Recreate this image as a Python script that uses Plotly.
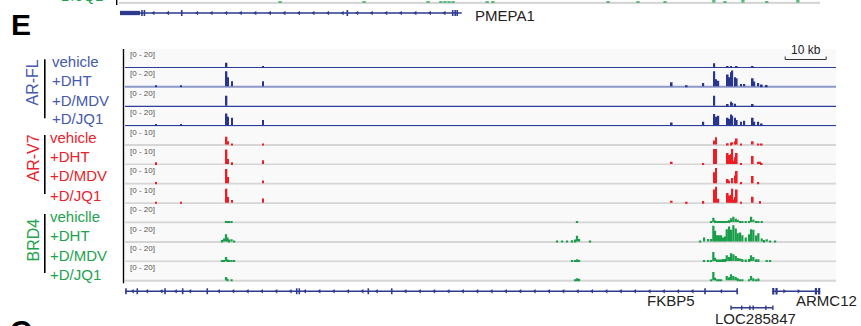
import plotly.graph_objects as go

# ======================= DATA =======================
GROUPS = ["AR-FL", "AR-V7", "BRD4"]
TREATMENTS = ["vehicle", "+DHT", "+D/MDV", "+D/JQ1"]
BRD4_TREATMENTS = ["vehiclle", "+DHT", "+D/MDV", "+D/JQ1"]
RANGE_LABELS = ["[0 - 20]", "[0 - 10]", "[0 - 20]"]
DATA_MAX = [20, 10, 20]
WINDOW_KB = 173.4          # visible locus width (kb)
SCALE_BAR_KB = [161.0, 171.0]

# AR (AR-FL and AR-V7) ChIP peak positions, kb from window start
AR_POS = [7.56, 13.66, 24.76, 25.12, 26.10, 33.66, 133.34, 137.0, 141.05,
          143.73, 144.10, 144.71, 147.0, 147.32, 147.80, 148.12, 148.49,
          148.78, 149.2, 150.24, 151.05, 153.1, 153.49, 154.46, 154.88,
          155.29, 156.5]
ARFL_VEHICLE = [0, 0, 4.7, 0, 0, 0.6, 0, 0, 0, 4.3, 0, 0, 0.9, 0, 1.2, 0, 0,
                0, 0.8, 0, 0, 1.2, 0, 0, 0, 0, 0]
ARFL_DHT = [1.2, 1.2, 17.4, 10.5, 5.8, 5.8, 4.7, 1.2, 3.8, 17.4, 8.1, 6.6,
            13.6, 10.5, 16.3, 18.3, 0, 10.5, 9.3, 2.7, 2.7, 9.3, 5.5, 3.8, 0,
            2.0, 1.5]
ARFL_MDV = [0, 0, 11.6, 0, 0, 0, 0, 0, 0, 11.6, 0, 0, 2.0, 0, 4.7, 3.1, 0,
            2.3, 0, 0, 0, 2.0, 0, 0, 0, 0, 0]
ARFL_JQ1 = [1.2, 1.2, 13.6, 9.7, 8.5, 5.8, 3.1, 0, 3.8, 12.8, 9.7, 10.8, 8.5,
            7.0, 12.4, 10.8, 0, 8.5, 5.8, 3.8, 5.0, 8.5, 3.8, 3.8, 0, 2.0, 0]
ARV7_VEHICLE = [0, 0, 4.5, 1.9, 0.4, 0.3, 0, 0, 0, 2.3, 4.2, 0, 0.8, 0, 1.0,
                1.3, 0, 1.9, 3.5, 0.4, 0, 1.9, 0, 0.4, 0, 0.4, 0]
ARV7_DHT = [1.0, 0, 8.3, 2.9, 1.0, 2.1, 1.2, 0, 0.6, 8.7, 8.7, 0, 6.4, 5.2,
            5.8, 8.7, 1.9, 3.9, 6.4, 0.6, 0, 4.6, 0, 1.2, 1.3, 0.6, 0]
ARV7_MDV = [0.8, 0, 8.3, 3.7, 0, 1.6, 0, 0, 0, 6.4, 8.9, 0, 2.5, 1.6, 0, 3.1,
            0, 4.5, 7.1, 0.8, 0, 4.2, 0, 0.8, 0, 0, 0]
ARV7_JQ1 = [0.6, 0.6, 8.1, 3.3, 1.6, 2.5, 1.2, 0.6, 1.0, 7.6, 9.3, 2.3, 5.6,
            4.2, 4.6, 8.1, 1.9, 3.3, 7.6, 0.6, 0, 3.5, 0, 0, 1.0, 0, 0]

# BRD4 ChIP signal bins, kb from window start
BRD4_POS = [23.66, 24.15, 24.63, 25.0, 25.37, 25.98, 26.59,
            105.37, 106.59, 107.8, 109.02, 109.76, 110.24, 110.73, 113.41,
            140.24, 141.22, 142.2, 142.93, 143.49, 143.9, 144.39, 144.88,
            145.37, 145.85, 146.34, 146.76, 147.32, 147.8, 148.37, 148.95,
            149.44, 150.0, 150.56, 151.39, 152.2, 152.68, 153.24, 153.9,
            154.46, 155.29, 155.85, 156.51, 157.32, 158.54]
BRD4_VEHICLE = [0, 0, 1.2, 0.6, 0.8, 1.2, 0,
                0, 0, 0, 0, 0, 1.2, 0, 0,
                0, 0, 0, 0.6, 5.0, 2.0, 1.2, 1.2, 1.2, 1.2, 0.6, 1.2, 2.3,
                4.6, 6.1, 3.8, 2.7, 1.2, 1.2, 0.6, 0.6, 6.1, 2.7, 1.2, 1.2,
                0.6, 0, 0, 0, 0]
BRD4_DHT = [1.7, 3.5, 8.5, 4.6, 2.3, 2.7, 0.6,
            0.6, 0.8, 0.8, 1.5, 2.3, 6.6, 2.9, 1.2,
            1.2, 4.6, 2.9, 2.9, 18.2, 12.4, 7.3, 7.3, 7.3, 4.6, 5.8, 14.3,
            17.4, 13.6, 18.9, 15.1, 9.6, 10.4, 7.3, 4.6, 8.5, 14.3, 13.6,
            7.0, 9.6, 3.5, 1.7, 2.7, 0.8, 0.8]
BRD4_MDV = [0.8, 1.2, 4.6, 1.7, 1.2, 1.2, 0.8,
            0, 0, 0, 1.2, 1.2, 2.0, 1.2, 0,
            0, 0.8, 1.2, 1.2, 10.4, 3.8, 1.7, 1.7, 1.7, 2.3, 2.3, 6.6, 4.6,
            8.9, 7.8, 5.8, 3.5, 2.7, 2.3, 1.7, 2.3, 6.6, 4.6, 2.0, 2.0, 0, 0,
            1.2, 1.2, 0]
BRD4_JQ1 = [0, 0, 3.8, 1.7, 0, 1.2, 0,
            0, 0, 0, 0, 1.2, 2.3, 1.7, 0,
            0, 0, 0, 0.8, 9.6, 3.1, 1.2, 1.2, 1.2, 0, 0, 5.0, 3.5, 7.0, 5.0,
            3.8, 2.3, 1.2, 1.2, 0, 1.2, 5.0, 2.3, 1.2, 2.0, 0, 0, 0, 0, 0]

# Gene models (kb from window start)
FKBP5_SPAN = [0.0, 149.5]
FKBP5_EXONS = [0.24, 3.0, 9.76, 14.07, 20.07, 41.88, 42.51, 59.34, 65.05,
               141.46, 149.3]
ARMC12_SPAN = [158.1, 169.5]
ARMC12_EXONS = [158.1, 158.9, 168.5, 169.3]
LOC285847_SPAN = [147.8, 158.0]
LOC285847_EXONS = [147.8, 150.4, 152.4, 153.2, 156.3, 158.0]

# Previous panel remnants (its own locus, kb)
PREV_WINDOW_KB = 171.0
PMEPA1_SPAN = [0.24, 83.6]
PMEPA1_UTR = [0.24, 5.1]
PMEPA1_EXONS = [5.6, 6.2, 15.3, 55.7, 81.4, 82.0, 82.5]
PREV_POS = [39.3, 59.8, 75.4, 78.5, 79.5, 80.5, 81.5, 89.8, 91.2, 119.3,
            126.6, 133.2, 145.1, 147.8, 152.2, 158.0, 165.6]
PREV_VAL = [1.2, 1.2, 1.0, 1.0, 1.5, 1.0, 1.0, 1.0, 1.2, 1.0, 1.0, 1.0, 3.0,
            1.2, 3.0, 1.0, 3.0]

# ======================= STYLE / LAYOUT =======================
W, H = 861, 326
FONT = "Liberation Sans, Arial, sans-serif"
BLUE_TXT, BLUE_BAR = "#4559ad", "#27358e"
RED_TXT, RED_BAR = "#e8232b", "#ee1c25"
GRN_TXT, GRN_BAR = "#22a24d", "#1b9e4b"
GENE = "#2d3a8e"
TRACK_L, TRACK_R = 125, 836
TOP, ROW_H = 48.9, 19.4


def px(v):
    return v / W


def py(v):
    return 1 - v / H


fig = go.Figure()
shapes, ann = [], []
layout = dict(width=W, height=H, margin=dict(l=0, r=0, t=0, b=0),
              paper_bgcolor="white", plot_bgcolor="rgba(0,0,0,0)",
              showlegend=False, barmode="overlay")


def hidden(**kw):
    d = dict(visible=True, showticklabels=False, showgrid=False,
             zeroline=False, showline=False, ticks="", fixedrange=True)
    d.update(kw)
    return d


layout["xaxis"] = hidden(domain=[px(TRACK_L), px(TRACK_R)],
                         range=[0, WINDOW_KB], anchor="y13")
layout["xaxis2"] = hidden(domain=[px(119), px(820)],
                          range=[0, PREV_WINDOW_KB], anchor="y15")

tracks = [
    (0, ARFL_VEHICLE, AR_POS), (0, ARFL_DHT, AR_POS),
    (0, ARFL_MDV, AR_POS), (0, ARFL_JQ1, AR_POS),
    (1, ARV7_VEHICLE, AR_POS), (1, ARV7_DHT, AR_POS),
    (1, ARV7_MDV, AR_POS), (1, ARV7_JQ1, AR_POS),
    (2, BRD4_VEHICLE, BRD4_POS), (2, BRD4_DHT, BRD4_POS),
    (2, BRD4_MDV, BRD4_POS), (2, BRD4_JQ1, BRD4_POS),
]
bar_cols = [BLUE_BAR, RED_BAR, GRN_BAR]
txt_cols = [BLUE_TXT, RED_TXT, GRN_TXT]

for i, (g, vals, pos) in enumerate(tracks):
    top = TOP + i * ROW_H
    bot = top + ROW_H
    S = DATA_MAX[g]
    key = "yaxis" if i == 0 else f"yaxis{i + 1}"
    layout[key] = hidden(domain=[py(bot), py(top)],
                         range=[-0.08 * S, 1.045 * S], anchor="x")
    # row background
    shapes.append(dict(type="rect", xref="paper", yref="paper",
                       x0=px(TRACK_L), x1=px(TRACK_R), y0=py(bot), y1=py(top),
                       fillcolor="#f9f9f9", line=dict(width=0), layer="below"))
    if g == 0:
        lc, lw = ("#8d97c9", 2.2) if i == 1 else ("#2e3d9a", 1.2)
        shapes.append(dict(type="line", xref="paper", yref="paper",
                           x0=px(TRACK_L), x1=px(TRACK_R),
                           y0=py(bot - 0.8), y1=py(bot - 0.8),
                           line=dict(color=lc, width=lw), layer="below"))
    else:
        shapes.append(dict(type="rect", xref="paper", yref="paper",
                           x0=px(TRACK_L), x1=px(TRACK_R),
                           y0=py(bot), y1=py(bot - 1.9),
                           fillcolor="#d6d6d6", line=dict(width=0),
                           layer="below"))
    fig.add_trace(go.Bar(x=pos, y=vals, width=0.55 if g == 2 else 0.4,
                         marker=dict(color=bar_cols[g], line=dict(width=0)),
                         xaxis="x", yaxis="y" if i == 0 else f"y{i + 1}",
                         hoverinfo="skip"))
    ann.append(dict(text=RANGE_LABELS[g], xref="paper", yref="paper",
                    x=px(128), y=py(top + 5.5), xanchor="left",
                    yanchor="middle", showarrow=False,
                    font=dict(size=8, color="#555555", family=FONT)))

# left border of track panel
shapes.append(dict(type="line", xref="paper", yref="paper",
                   x0=px(123.5), x1=px(123.5), y0=py(49), y1=py(283.3),
                   line=dict(color="black", width=1.4)))

# group labels
label_y = [[61.7, 80.5, 100, 118.5], [137.3, 156.3, 175.3, 195],
           [216.7, 235.5, 255, 274]]
label_x = [50, 48, 48]
group_y = [83, 158, 240]
bracket = [(59.3, 118.3), (135, 194), (214, 273)]
for g in range(3):
    names = BRD4_TREATMENTS if g == 2 else TREATMENTS
    for t, name in enumerate(names):
        ann.append(dict(text=name, xref="paper", yref="paper",
                        x=px(label_x[g]), y=py(label_y[g][t]), xanchor="left",
                        yanchor="middle", showarrow=False,
                        font=dict(size=15, color=txt_cols[g], family=FONT)))
    ann.append(dict(text=GROUPS[g], xref="paper", yref="paper",
                    x=px(32.5), y=py(group_y[g]), textangle=-90,
                    xanchor="center", yanchor="middle", showarrow=False,
                    font=dict(size=16, color=txt_cols[g], family=FONT)))
    shapes.append(dict(type="line", xref="paper", yref="paper",
                       x0=px(44.8), x1=px(44.8), y0=py(bracket[g][0]),
                       y1=py(bracket[g][1]),
                       line=dict(color="black", width=1.6)))

# ---------------- gene track ----------------
layout["yaxis13"] = hidden(domain=[py(316), py(283)], range=[-1.5, 0.5],
                           anchor="x")


def draw_gene(span, exons, y, half, xa, ya, arrows, sym, ew=1.6, lw=1.5):
    fig.add_trace(go.Scatter(x=span, y=[y, y], mode="lines",
                             line=dict(color=GENE, width=lw), xaxis=xa,
                             yaxis=ya, hoverinfo="skip"))
    ex, ey = [], []
    for e in exons:
        ex += [e, e, None]
        ey += [y - half, y + half, None]
    fig.add_trace(go.Scatter(x=ex, y=ey, mode="lines",
                             line=dict(color=GENE, width=ew), xaxis=xa,
                             yaxis=ya, hoverinfo="skip"))
    if arrows:
        fig.add_trace(go.Scatter(x=arrows, y=[y] * len(arrows),
                                 mode="markers",
                                 marker=dict(symbol=sym, size=4, color=GENE,
                                             line=dict(width=0)),
                                 xaxis=xa, yaxis=ya, hoverinfo="skip"))


def strand_marks(start, stop, step, avoid):
    out, k = [], start
    while k < stop:
        if all(abs(k - a) > 0.7 for a in avoid):
            out.append(round(k, 2))
        k += step
    return out


draw_gene(FKBP5_SPAN, FKBP5_EXONS, 0, 0.18, "x", "y13",
          strand_marks(1.9, 149, 3.5, FKBP5_EXONS), "triangle-left")
draw_gene(ARMC12_SPAN, ARMC12_EXONS, 0, 0.2, "x", "y13",
          strand_marks(160.8, 168, 3.5, ARMC12_EXONS), "triangle-right",
          ew=2.2)
draw_gene(LOC285847_SPAN, LOC285847_EXONS, -1, 0.13, "x", "y13",
          [], "triangle-right", ew=1.4)

ann += [
    dict(text="FKBP5", xref="x", yref="paper", x=133.2, y=py(300),
         xanchor="center", yanchor="middle", showarrow=False,
         font=dict(size=15, color="#222222", family=FONT)),
    dict(text="ARMC12", xref="paper", yref="paper", x=px(826.5), y=py(300),
         xanchor="center", yanchor="middle", showarrow=False,
         font=dict(size=15, color="#222222", family=FONT)),
    dict(text="LOC285847", xref="x", yref="paper", x=153.8, y=py(318),
         xanchor="center", yanchor="middle", showarrow=False,
         font=dict(size=15, color="#222222", family=FONT)),
]

# scale bar
yb = py(59.5)
shapes += [
    dict(type="line", xref="x", yref="paper", x0=SCALE_BAR_KB[0],
         x1=SCALE_BAR_KB[1], y0=yb, y1=yb, line=dict(color="#333", width=1)),
    dict(type="line", xref="x", yref="paper", x0=SCALE_BAR_KB[0],
         x1=SCALE_BAR_KB[0], y0=yb, y1=py(56.5),
         line=dict(color="#333", width=1)),
    dict(type="line", xref="x", yref="paper", x0=SCALE_BAR_KB[1],
         x1=SCALE_BAR_KB[1], y0=yb, y1=py(56.5),
         line=dict(color="#333", width=1)),
]
ann.append(dict(text="10 kb", xref="x", yref="paper",
                x=sum(SCALE_BAR_KB) / 2, y=py(49.5), xanchor="center",
                yanchor="middle", showarrow=False,
                font=dict(size=12, color="#222222", family=FONT)))

# ---------------- previous panel remnants ----------------
layout["yaxis14"] = hidden(domain=[py(20), py(6)], range=[-1, 1],
                           anchor="x2")
layout["yaxis15"] = hidden(domain=[py(4), 1], range=[-1.6, 3.0],
                           anchor="x2")
shapes.append(dict(type="rect", xref="paper", yref="paper", x0=px(119),
                   x1=px(820), y0=py(3.9), y1=py(1.7), fillcolor="#d6d6d6",
                   line=dict(width=0), layer="below"))
fig.add_trace(go.Bar(x=PREV_POS, y=PREV_VAL, width=0.8,
                     marker=dict(color="#5cb97b", line=dict(width=0)),
                     xaxis="x2", yaxis="y15", hoverinfo="skip"))
shapes.append(dict(type="line", xref="paper", yref="paper", x0=px(116.7),
                   x1=px(116.7), y0=1, y1=py(5),
                   line=dict(color="black", width=1.4)))
fig.add_trace(go.Scatter(x=PMEPA1_UTR, y=[0, 0], mode="lines",
                         line=dict(color=GENE, width=4.3), xaxis="x2",
                         yaxis="y14", hoverinfo="skip"))
draw_gene(PMEPA1_SPAN, PMEPA1_EXONS, 0, 0.43, "x2", "y14",
          strand_marks(8.4, 81, 3.55, PMEPA1_EXONS), "triangle-left")
ann.append(dict(text="PMEPA1", xref="paper", yref="paper", x=px(473),
                y=py(15.5), xanchor="left", yanchor="middle",
                showarrow=False,
                font=dict(size=15, color="#222222", family=FONT)))
ann.append(dict(text="+D/JQ1", xref="paper", yref="paper", x=px(50),
                y=py(-5), xanchor="left", yanchor="middle", showarrow=False,
                font=dict(size=15, color=GRN_TXT, family=FONT)))

# panel letters
ann.append(dict(text="<b>E</b>", xref="paper", yref="paper", x=px(21),
                y=py(24.5), xanchor="center", yanchor="middle",
                showarrow=False, font=dict(size=30, color="black",
                                           family=FONT)))
ann.append(dict(text="<b>C</b>", xref="paper", yref="paper", x=px(21),
                y=py(331), xanchor="center", yanchor="middle",
                showarrow=False, font=dict(size=30, color="black",
                                           family=FONT)))

layout["shapes"] = shapes
layout["annotations"] = ann
fig.update_layout(**layout)
fig.write_html("out.html", config={"displayModeBar": False},
               post_script="document.body.style.margin='0px';"
                           "document.body.style.overflow='hidden';")
